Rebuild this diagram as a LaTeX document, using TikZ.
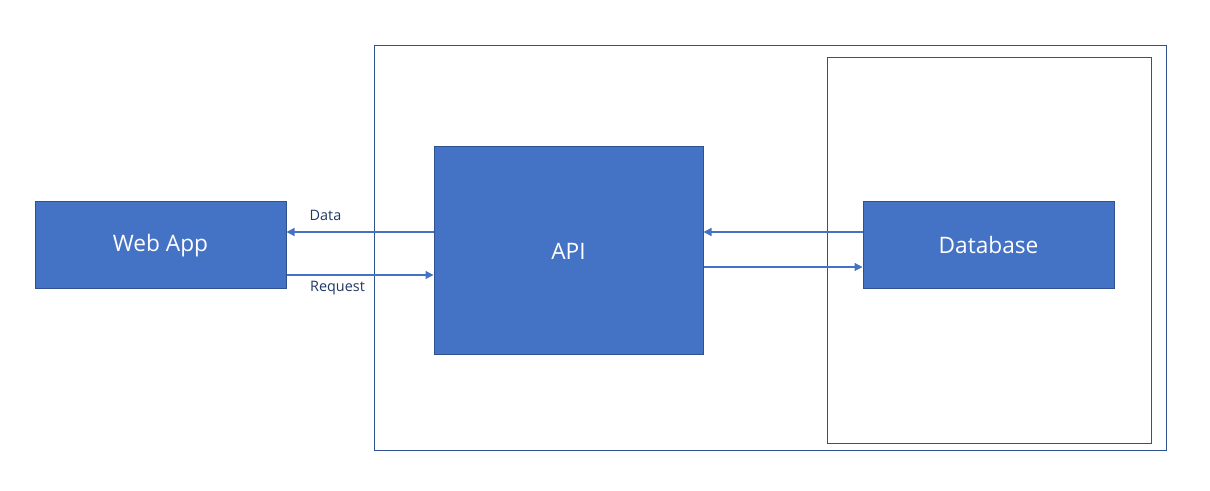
\documentclass[tikz,border=0pt]{standalone}
\usepackage{fontspec}
\setmainfont{Open Sans}
\usetikzlibrary{arrows.meta}
\definecolor{boxfill}{HTML}{4472C4}
\definecolor{boxline}{HTML}{2F528F}
\definecolor{lbl}{HTML}{203864}
\begin{document}
\begin{tikzpicture}[x=0.75pt,y=-0.75pt,
  box/.style={draw=boxline,fill=boxfill,line width=0.75pt,text=white,font=\fontsize{17}{20}\selectfont},
  frame/.style={draw=boxline,line width=0.75pt},
  conn/.style={draw=boxfill,line width=0.9pt,-{Triangle[length=6pt,width=6pt]}},
  lab/.style={text=lbl,font=\fontsize{10.8}{12}\selectfont}]
\useasboundingbox (0,0) rectangle (1210,491);
\draw[frame] (374,46) rectangle (1166,450);
\draw[frame] (827,58) rectangle (1151,443);
\node[box,minimum width=251*0.75pt,minimum height=87*0.75pt,inner sep=0pt] (web) at (160.5,245.5) {Web App};
\node[box,minimum width=269*0.75pt,minimum height=208*0.75pt,inner sep=0pt] (api) at (568.5,251) {API};
\node[box,minimum width=251*0.75pt,minimum height=87*0.75pt,inner sep=0pt] (db) at (988.5,245.5) {Database};
\coordinate (a1) at (api.west |- 0,232);
\coordinate (w1) at (web.east |- 0,232);
\coordinate (w2) at (web.east |- 0,275);
\coordinate (a2) at (api.west |- 0,275);
\coordinate (d1) at (db.west |- 0,232);
\coordinate (a3) at (api.east |- 0,232);
\coordinate (a4) at (api.east |- 0,267);
\coordinate (d2) at (db.west |- 0,267);
\draw[conn] (a1) -- (w1);
\draw[conn] (w2) -- (a2);
\draw[conn] (d1) -- (a3);
\draw[conn] (a4) -- (d2);
\node[lab] (data) at (325.5,215) {Data};
\node[lab] (req) at (337.5,288) {Request};
\end{tikzpicture}
\end{document}
